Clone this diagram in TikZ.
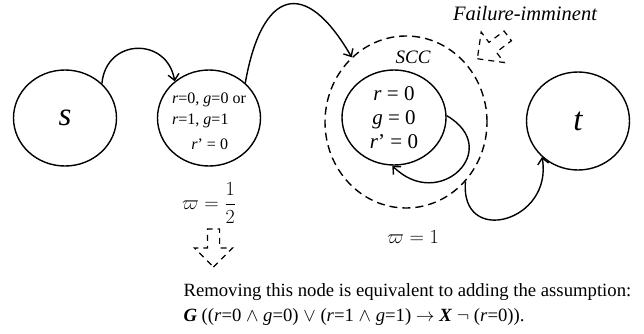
\RequirePackage{fix-cm}
\documentclass[tikz,border=0pt]{standalone}
\usepackage{amsmath,amssymb}
\usepackage{fontspec}
\setmainfont{Liberation Serif}
\usepackage{tikz}
\usetikzlibrary{arrows.meta, positioning, shapes.geometric, shapes.arrows}
\tikzset{
  state/.style={ellipse, draw=black, line width=1.4pt,
                minimum width=103pt, minimum height=96pt, inner sep=0pt},
  sccbox/.style={ellipse, draw=black, line width=1.4pt,
                 dash pattern=on 8pt off 5pt,
                 minimum width=162pt, minimum height=172pt, inner sep=0pt},
  arr/.style={-{Straight Barb[length=6pt,width=11pt]}, line width=1.4pt},
  hint/.style={single arrow, draw=black, line width=1.2pt,
               dash pattern=on 6pt off 5pt, inner xsep=0pt, inner ysep=5.5pt,
               single arrow head extend=13pt, minimum height=38pt},
  txt/.style={font=\fontsize{21}{24}\selectfont, inner sep=0pt},
  lbl/.style={font=\fontsize{20}{25}\selectfont},
  big/.style={font=\fontsize{33}{33}\selectfont\itshape},
}

\begin{document}
\begin{tikzpicture}[x=1pt, y=1pt]
  \useasboundingbox (0,0) rectangle (644,333);
  %% states
  \node[state] (s)   at (65,215)  {};
  \node[big]   (stxt) at (s) {s};
  \node[state] (mid) at (209,215) {};
  \node[txt, align=left, font=\fontsize{16}{21}\selectfont] (midtxt)
    at ([yshift=-3pt]mid.center)
    {\textit{r}=0, \textit{g}=0 or\\\textit{r}=1, \textit{g}=1\\[4pt]
     \hspace*{1.2em}\textit{r}’ = 0};
  \node[sccbox] (scc) at (406,211) {};
  \node[state, minimum width=104pt, minimum height=95pt] (inner) at (394,215.5) {};
  \node[txt, align=center] (innertxt) at (inner)
    {\textit{r} = 0\\\textit{g} = 0\\\textit{r}’ = 0};
  \node[state, minimum height=98pt] (t) at (578,212) {};
  \node[big]   (ttxt) at (t) {t};
  %% labels
  \node[lbl, font=\fontsize{19}{23}\selectfont\itshape] (scclbl) at (413,276) {SCC};
  \node[lbl, font=\fontsize{20.5}{23}\selectfont\itshape] (fail) at (525,319) {Failure-imminent};
  \node[lbl] (wmid) at (209,130) {$\varpi = \dfrac{1}{2}$};
  \node[lbl] (wscc) at (413,96) {$\varpi = 1$};
  %% hints
  \node[hint, rotate=-90] (hintmid) at (213.5,88) {};
  \node[hint, rotate=217] (hintscc) at (495,287.5) {};
  %% edges
  \draw[arr] (s.43) to[out=85, in=100, looseness=1.6] (mid.133);
  \draw[arr] (mid.44) to[out=80, in=120, looseness=2.2] (scc.130);
  \draw[arr] (inner.2) to[out=-30, in=-45, looseness=2.3] (inner.-92);
  \draw[arr] (scc.-45) to[out=-95, in=-80, looseness=2.1] (t.-135);
  %% note
  \node[lbl, align=left, anchor=west, font=\fontsize{18.7}{25.5}\selectfont] (note) at (180,28.5)
    {Removing this node is equivalent to adding the assumption:\\
     \textbf{\textit{G}} ((\textit{r}=0 $\wedge$ \textit{g}=0) $\vee$
     (\textit{r}=1 $\wedge$ \textit{g}=1) $\rightarrow$ \textbf{\textit{X}}
     $\neg$ (\textit{r}=0)).};
\end{tikzpicture}
\end{document}
